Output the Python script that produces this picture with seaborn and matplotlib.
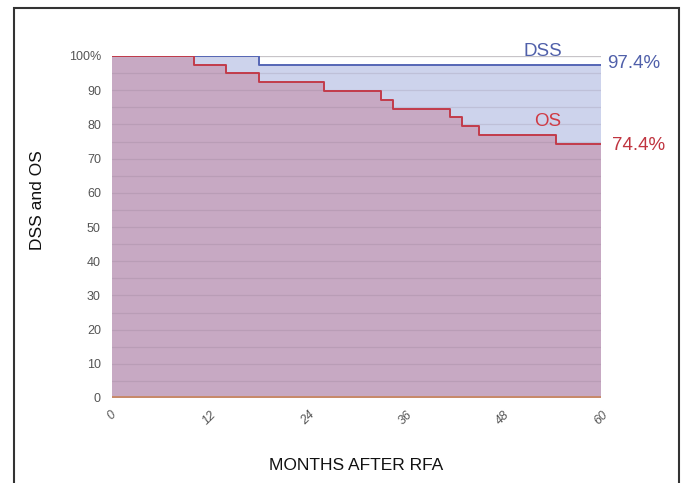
import matplotlib
matplotlib.use("Agg")
import matplotlib.pyplot as plt
import seaborn as sns
import pandas as pd
from matplotlib.patches import Rectangle

# Data
os_months = [0, 10, 14, 18, 26, 33, 34.5, 41.5, 43, 45, 54.5, 60]
os_surv = [100, 97.4, 94.9, 92.3, 89.7, 87.2, 84.6, 82.1, 79.5, 76.9, 74.4, 74.4]
dss_months = [0, 18, 60]
dss_surv = [100, 97.4, 97.4]
x_ticks = [0, 12, 24, 36, 48, 60]
y_ticks = [0, 10, 20, 30, 40, 50, 60, 70, 80, 90, 100]
y_ticklabels = ["0", "10", "20", "30", "40", "50", "60", "70", "80", "90", "100%"]

sns.set_theme(style="white")
plt.rcParams['font.family'] = ['Liberation Sans', 'DejaVu Sans']

fig = plt.figure(figsize=(6.84, 4.83), dpi=100)
ax = fig.add_axes([112/684, 1-398/483, (601-112)/684, (398-56)/483])

df_os = pd.DataFrame({"month": os_months, "surv": os_surv})
df_dss = pd.DataFrame({"month": dss_months, "surv": dss_surv})

ax.fill_between(df_dss["month"], df_dss["surv"], 0, step="post", color="#cdd3ec", lw=0, zorder=1)
ax.fill_between(df_os["month"], df_os["surv"], 0, step="post", color="#c7a9c3", lw=0, zorder=2)

for y in range(5, 101, 5):
    ax.axhline(y, color="#7a6a80", alpha=0.18, lw=0.9, zorder=3)
ax.axhline(100, xmin=0, xmax=1, color="#d8d8d8", lw=0.9, zorder=2.5)

sns.lineplot(data=df_dss, x="month", y="surv", drawstyle="steps-post", color="#5566b5", lw=1.4, ax=ax, zorder=5)
sns.lineplot(data=df_os, x="month", y="surv", drawstyle="steps-post", color="#c23b4a", lw=1.4, ax=ax, zorder=6)
ax.axhline(0.3, color="#c8845a", lw=1.2, zorder=7)

ax.set_xlim(0, 60)
ax.set_ylim(0, 100)
for s in ax.spines.values():
    s.set_visible(False)
ax.set_xticks(x_ticks)
ax.set_xticklabels([str(t) for t in x_ticks], rotation=45, color="#555555", fontsize=9,
                   style="italic", ha="center", va="top")
ax.set_yticks(y_ticks)
ax.set_yticklabels(y_ticklabels, color="#555555", fontsize=9)
ax.tick_params(axis="y", length=0, pad=8)
ax.tick_params(axis="x", length=0, pad=8)
ax.set_xlabel("MONTHS AFTER RFA", fontsize=12.5, color="#111111", labelpad=22)
ax.set_ylabel("")
fig.text(38/684, 1-200/483, "DSS and OS", rotation=90, fontsize=12.5, color="#111111",
         ha="center", va="center")

fig.text(543/684, 1-51/483, "DSS", fontsize=13.5, color="#5060aa", ha="center", va="center")
fig.text(607/684, 1-63/483, "97.4%", fontsize=13.5, color="#5060aa", ha="left", va="center")
fig.text(548/684, 1-122/483, "OS", fontsize=13.5, color="#d03a44", ha="center", va="center")
fig.text(612/684, 1-146/483, "74.4%", fontsize=13.5, color="#c03540", ha="left", va="center")

# outer frame
fig.patches.append(Rectangle((14/684, -0.05), (679-14)/684, 1.05 - 8/483, transform=fig.transFigure,
                             fill=False, edgecolor="#333333", lw=1.5))

fig.savefig("out.png", dpi=100)
